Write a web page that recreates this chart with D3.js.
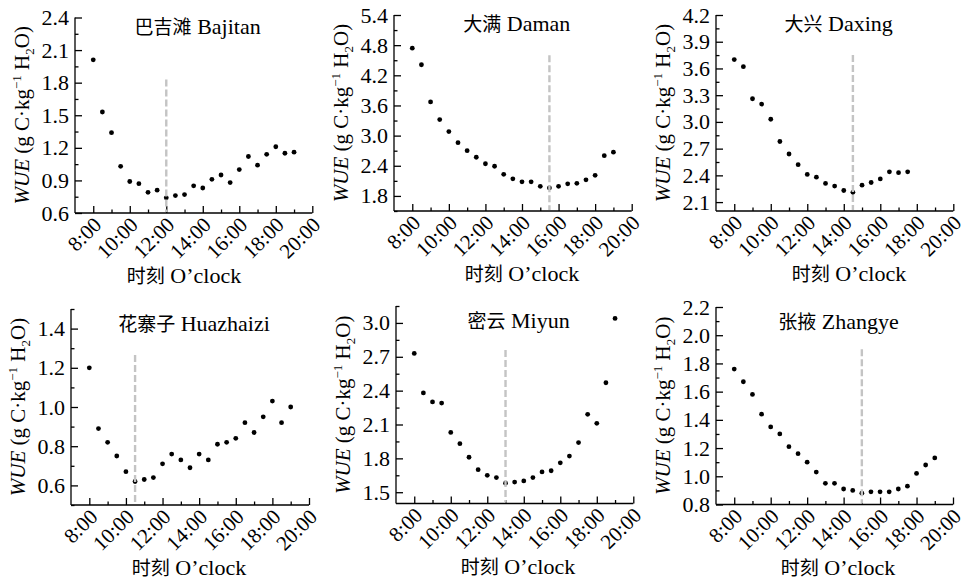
<!DOCTYPE html>
<html>
<head>
<meta charset="utf-8">
<script src="https://cdn.jsdelivr.net/npm/d3@7"></script>
<style>
  body { margin: 0; background: #fff; }
  svg { display: block; }
  .axis path, .axis line { stroke: #000; stroke-width: 1.3px; }
</style>
</head>
<body>
<script>
// half-hourly times (hours)
var times = [8, 8.5, 9, 9.5, 10, 10.5, 11, 11.5, 12, 12.5, 13, 13.5, 14, 14.5, 15, 15.5, 16, 16.5, 17, 17.5, 18, 18.5, 19];
var hourTicks = [8, 10, 12, 14, 16, 18, 20];
var hourMinor = [9, 11, 13, 15, 17, 19];

var bajitan   = [2.01, 1.53, 1.34, 1.03, 0.89, 0.87, 0.79, 0.81, 0.74, 0.76, 0.77, 0.85, 0.83, 0.91, 0.95, 0.88, 1.00, 1.12, 1.04, 1.14, 1.21, 1.15, 1.16];
var daman     = [4.74, 4.41, 3.67, 3.32, 3.08, 2.86, 2.70, 2.57, 2.44, 2.39, 2.23, 2.14, 2.08, 2.08, 1.99, 1.96, 1.99, 2.04, 2.05, 2.12, 2.21, 2.60, 2.67];
var daxing    = [3.70, 3.62, 3.26, 3.20, 3.03, 2.78, 2.64, 2.52, 2.41, 2.38, 2.31, 2.28, 2.23, 2.21, 2.29, 2.32, 2.36, 2.44, 2.43, 2.44];
var huazhaizi = [1.20, 0.89, 0.82, 0.75, 0.67, 0.62, 0.63, 0.64, 0.71, 0.76, 0.73, 0.69, 0.76, 0.73, 0.81, 0.82, 0.84, 0.92, 0.87, 0.95, 1.03, 0.92, 1.00];
var miyun     = [2.73, 2.38, 2.30, 2.29, 2.03, 1.93, 1.81, 1.70, 1.65, 1.63, 1.58, 1.59, 1.60, 1.63, 1.68, 1.69, 1.76, 1.82, 1.94, 2.19, 2.11, 2.47, 3.04];
var zhangye   = [1.76, 1.67, 1.58, 1.44, 1.35, 1.30, 1.21, 1.16, 1.10, 1.03, 0.95, 0.95, 0.91, 0.90, 0.88, 0.89, 0.89, 0.89, 0.91, 0.93, 1.02, 1.08, 1.13];

var siteCn = ["巴吉滩", "大满", "大兴", "花寨子", "密云", "张掖"];
var siteEn = ["Bajitan", "Daman", "Daxing", "Huazhaizi", "Miyun", "Zhangye"];
var series = [bajitan, daman, daxing, huazhaizi, miyun, zhangye];

// y domains and ticks
var yDomains = [[0.6, 2.4], [1.5, 5.4], [2.0, 4.2], [0.5, 1.5], [1.4, 3.15], [0.8, 2.2]];
var yMajor = [
  [0.6, 0.9, 1.2, 1.5, 1.8, 2.1, 2.4],
  [1.8, 2.4, 3.0, 3.6, 4.2, 4.8, 5.4],
  [2.1, 2.4, 2.7, 3.0, 3.3, 3.6, 3.9, 4.2],
  [0.6, 0.8, 1.0, 1.2, 1.4],
  [1.5, 1.8, 2.1, 2.4, 2.7, 3.0],
  [0.8, 1.0, 1.2, 1.4, 1.6, 1.8, 2.0, 2.2]
];
var yMinor = [
  [0.75, 1.05, 1.35, 1.65, 1.95, 2.25],
  [1.5, 2.1, 2.7, 3.3, 3.9, 4.5, 5.1],
  [2.25, 2.55, 2.85, 3.15, 3.45, 3.75, 4.05],
  [0.5, 0.7, 0.9, 1.1, 1.3, 1.5],
  [1.65, 1.95, 2.25, 2.55, 2.85, 3.15],
  [0.9, 1.1, 1.3, 1.5, 1.7, 1.9, 2.1]
];
// time of the dashed marker and its top value
var markTime = [12, 15.5, 14.5, 10.5, 13, 15];
var markTop  = [1.83, 4.6, 3.75, 1.265, 2.76, 1.9];

var serif = '"Liberation Serif", "Times New Roman", serif';
var cjk = '"Noto Sans CJK SC", sans-serif';

// panel layout (px)
var panels = [
  {left: 75,  right: 312.3, top: 17.5, bottom: 213, xlab: 184},
  {left: 394, right: 631.7, top: 15,   bottom: 211, xlab: 522},
  {left: 716, right: 953.3, top: 15,   bottom: 211, xlab: 849},
  {left: 71,  right: 309,   top: 309,  bottom: 505, xlab: 189},
  {left: 396, right: 633.3, top: 306,  bottom: 503.5, xlab: 518},
  {left: 716, right: 953,   top: 307,  bottom: 504.5, xlab: 838}
];

var svg = d3.select("body").append("svg")
    .attr("width", 963)
    .attr("height", 585);

panels.forEach(function(p, i) {
  var g = svg.append("g");
  var x = d3.scaleLinear().domain([7, 20]).range([p.left, p.right]);
  var y = d3.scaleLinear().domain(yDomains[i]).range([p.bottom, p.top]);

  // minor ticks
  g.append("g").attr("class", "axis")
    .attr("transform", "translate(0," + p.bottom + ")")
    .call(d3.axisBottom(x).tickValues(hourMinor).tickSize(-3.5).tickSizeOuter(0).tickFormat(""))
    .select(".domain").remove();
  g.append("g").attr("class", "axis")
    .attr("transform", "translate(" + p.left + ",0)")
    .call(d3.axisLeft(y).tickValues(yMinor[i]).tickSize(-3.5).tickSizeOuter(0).tickFormat(""))
    .select(".domain").remove();

  // x axis
  var xa = g.append("g").attr("class", "axis")
    .attr("transform", "translate(0," + p.bottom + ")")
    .call(d3.axisBottom(x).tickValues(hourTicks).tickSize(-7).tickSizeOuter(0)
      .tickFormat(function(d) { return d + ":00"; }));
  xa.selectAll("text")
    .style("font-family", serif)
    .style("font-size", "21px")
    .style("fill", "#000")
    .attr("y", 0).attr("dy", 0)
    .attr("text-anchor", "end")
    .attr("transform", "translate(9,13) rotate(-45)");

  // y axis
  var ya = g.append("g").attr("class", "axis")
    .attr("transform", "translate(" + p.left + ",0)")
    .call(d3.axisLeft(y).tickValues(yMajor[i]).tickSize(-7).tickSizeOuter(0)
      .tickFormat(d3.format(".1f")));
  ya.selectAll("text")
    .style("font-family", serif)
    .style("font-size", "22px")
    .style("fill", "#000")
    .attr("x", -6);
  ya.select(".domain").attr("d", "M0," + p.top + "V" + p.bottom);
  xa.select(".domain").attr("d", "M" + p.left + ",0H" + p.right);

  // points
  var pts = series[i].map(function(v, j) { return {t: times[j], v: v}; });
  g.selectAll(".dot").data(pts).enter().append("circle")
    .attr("class", "dot")
    .attr("cx", function(d) { return x(d.t); })
    .attr("cy", function(d) { return y(d.v); })
    .attr("r", 2.4)
    .style("fill", "#000");

  // dashed marker
  g.append("line")
    .attr("x1", x(markTime[i])).attr("x2", x(markTime[i]))
    .attr("y1", y(markTop[i])).attr("y2", p.bottom - 1)
    .style("stroke", "#c4c4c4")
    .style("stroke-width", 2.4)
    .style("stroke-dasharray", "7,3");

  // title
  var t = g.append("text")
    .attr("x", (p.left + p.right) / 2 + 4)
    .attr("y", p.top + 16 + (i >= 3 ? 6 : 0))
    .attr("text-anchor", "middle")
    .style("font-family", serif)
    .style("font-size", "22px");
  t.append("tspan").style("font-family", cjk).style("font-size", "19px").text(siteCn[i]);
  t.append("tspan").text(" " + siteEn[i]);

  // x label
  var xl = g.append("text")
    .attr("x", p.xlab)
    .attr("y", p.bottom + 70)
    .attr("text-anchor", "middle")
    .style("font-family", serif)
    .style("font-size", "22px");
  xl.append("tspan").style("font-family", cjk).style("font-size", "19px").text("时刻");
  xl.append("tspan").text(" O’clock");

  // y label
  var yl = g.append("text")
    .attr("transform", "translate(" + (p.left - 46) + "," + ((p.top + p.bottom) / 2) + ") rotate(-90)")
    .attr("text-anchor", "middle")
    .style("font-family", serif)
    .style("font-size", "21px");
  yl.append("tspan").style("font-style", "italic").text("WUE");
  yl.append("tspan").text(" (g C·kg");
  yl.append("tspan").style("font-size", "13px").attr("dy", -8).text("−1");
  yl.append("tspan").attr("dy", 8).text(" H");
  yl.append("tspan").style("font-size", "13px").attr("dy", 5).text("2");
  yl.append("tspan").attr("dy", -5).text("O)");
});
</script>
</body>
</html>
